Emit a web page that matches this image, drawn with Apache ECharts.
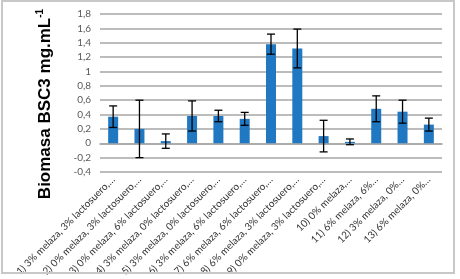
<!DOCTYPE html>
<html><head><meta charset="utf-8">
<script src="https://cdn.jsdelivr.net/npm/echarts@6/dist/echarts.min.js"></script>
<style>html,body{margin:0;padding:0;background:#fff}#c{width:460px;height:279px}</style>
</head><body><div id="c"></div>
<script>
var categories = [
  "1) 3% melaza, 3% lactosuero,…",
  "2) 0% melaza, 3% lactosuero,…",
  "3) 0% melaza, 6% lactosuero,…",
  "4) 3% melaza, 0% lactosuero,…",
  "5) 3% melaza, 0% lactosuero,…",
  "6) 3% melaza, 6% lactosuero,…",
  "7) 6% melaza, 6% lactosuero,…",
  "8) 6% melaza, 3% lactosuero,…",
  "9) 0% melaza, 3% lactosuero,…",
  "10) 0% melaza,…",
  "11) 6% melaza, 6%…",
  "12) 3% melaza, 0%…",
  "13) 6% melaza, 0%…"
];
var biomasa = [0.37, 0.20, 0.03, 0.38, 0.38, 0.34, 1.38, 1.32, 0.10, 0.02, 0.48, 0.44, 0.26];
var errorUp = [0.15, 0.40, 0.10, 0.21, 0.08, 0.09, 0.14, 0.27, 0.22, 0.04, 0.18, 0.16, 0.09];
var yTicks = [-0.4, -0.2, 0, 0.2, 0.4, 0.6, 0.8, 1, 1.2, 1.4, 1.6, 1.8];
var yTitle = 'Biomasa BSC3 mg.mL';
var yTitleSup = '-1';

var errData = biomasa.map(function (v, i) { return [i, v - errorUp[i], v + errorUp[i]]; });

var chart = echarts.init(document.getElementById('c'));
chart.setOption({
  animation: false,
  backgroundColor: '#ffffff',
  graphic: [{
    type: 'rect', shape: { x: 2, y: 1, width: 452, height: 272 },
    style: { fill: 'none', stroke: '#c8c8c8', lineWidth: 2 }, z: 100, silent: true
  }, {
    type: 'text', x: 45, y: 104, rotation: Math.PI / 2, silent: true,
    style: {
      text: '{t|' + yTitle + '}{s|' + yTitleSup + '}',
      align: 'center', verticalAlign: 'middle',
      rich: {
        t: { fontFamily: '"Liberation Sans", Arial, sans-serif', fontSize: 17, fontWeight: 'bold', fill: '#000', color: '#000' },
        s: { fontFamily: '"Liberation Sans", Arial, sans-serif', fontSize: 10, fontWeight: 'bold', fill: '#000', color: '#000', verticalAlign: 'top', padding: [0, 0, 9, 0] }
      }
    }
  }],
  grid: { left: 100, right: 18, top: 14, bottom: 107 },
  xAxis: {
    type: 'category',
    data: categories,
    axisLine: { onZero: true, lineStyle: { color: '#a6a6a6', width: 1.5 } },
    axisTick: { show: false },
    axisLabel: {
      rotate: 45, interval: 0, margin: 6,
      fontFamily: 'Lato, "Open Sans", sans-serif', fontSize: 10, color: '#333333'
    }
  },
  yAxis: {
    type: 'value', min: -0.4, max: 1.8, interval: 0.2,
    axisLine: { show: false },
    axisTick: { show: false },
    splitLine: { lineStyle: { color: '#a6a6a6', width: 1.5 } },
    axisLabel: {
      margin: 9, fontFamily: 'Lato, "Open Sans", sans-serif', fontSize: 10, color: '#595959',
      formatter: function (v) { return String(Math.round(v * 10) / 10).replace('.', ','); }
    }
  },
  series: [{
    type: 'bar', data: biomasa, barWidth: '38%',
    itemStyle: { color: '#1f78c1' }
  }, {
    type: 'custom',
    data: errData,
    z: 10,
    renderItem: function (params, api) {
      var x = api.value(0);
      var lo = api.coord([x, api.value(1)]);
      var hi = api.coord([x, api.value(2)]);
      var hw = 4;
      var st = { stroke: '#000', lineWidth: 1.3 };
      return {
        type: 'group',
        children: [
          { type: 'line', shape: { x1: lo[0], y1: lo[1], x2: hi[0], y2: hi[1] }, style: st },
          { type: 'line', shape: { x1: lo[0] - hw, y1: lo[1], x2: lo[0] + hw, y2: lo[1] }, style: st },
          { type: 'line', shape: { x1: hi[0] - hw, y1: hi[1], x2: hi[0] + hw, y2: hi[1] }, style: st }
        ]
      };
    }
  }]
});
</script></body></html>
